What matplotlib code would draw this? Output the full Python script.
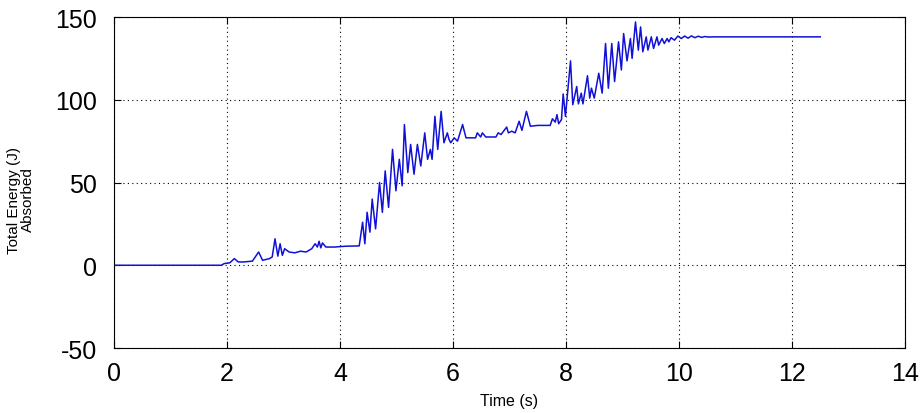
import matplotlib
matplotlib.use("Agg")
import matplotlib.pyplot as plt

# data (time in s, energy in J)
time = [0.0, 1.9, 1.95, 2.05, 2.13, 2.2, 2.3, 2.45, 2.56, 2.63, 2.75, 2.8, 2.85,
        2.9, 2.94, 2.98, 3.02, 3.1, 3.2, 3.3, 3.4, 3.5, 3.56, 3.6, 3.63, 3.66,
        3.69, 3.75, 3.9, 4.1, 4.34,
        4.4, 4.44, 4.48, 4.53, 4.57, 4.63, 4.7, 4.75, 4.8, 4.86, 4.93, 4.99,
        5.05, 5.1, 5.14, 5.2, 5.25, 5.31, 5.37, 5.43, 5.5, 5.55, 5.6, 5.63,
        5.68, 5.73, 5.79, 5.84, 5.9, 5.93, 5.96, 6.02, 6.08, 6.17, 6.23,
        6.32, 6.4, 6.43, 6.49, 6.52, 6.58, 6.76, 6.8, 6.85, 6.95, 6.98,
        7.04, 7.1, 7.17, 7.22, 7.3, 7.37, 7.5, 7.72, 7.76, 7.81, 7.84, 7.87,
        7.92, 7.95, 7.99, 8.08, 8.12, 8.19, 8.22, 8.27, 8.3, 8.38, 8.42, 8.45,
        8.5, 8.58, 8.64, 8.7, 8.75, 8.81, 8.86, 8.93, 8.98, 9.02, 9.08, 9.14,
        9.17, 9.23, 9.28, 9.32, 9.36, 9.42, 9.45, 9.51, 9.55, 9.61, 9.64, 9.7,
        9.74, 9.79, 9.82, 9.86, 9.92, 9.98, 10.04, 10.1, 10.16, 10.22, 10.28,
        10.34, 10.4, 10.46, 10.52, 10.6, 11.0, 11.5, 12.0, 12.5]
energy = [0.0, 0.0, 1.0, 1.5, 4.0, 2.0, 2.0, 2.5, 8.0, 3.0, 4.0, 5.0, 16.0,
          5.5, 13.0, 6.0, 10.0, 8.0, 7.5, 8.5, 8.0, 10.0, 13.0, 11.0, 14.5, 10.5,
          13.5, 11.0, 11.0, 11.5, 11.7,
          26.0, 13.0, 32.0, 20.0, 40.0, 22.0, 50.0, 32.0, 57.0, 35.0, 70.0, 45.0,
          64.0, 48.0, 85.0, 56.0, 73.0, 55.0, 73.0, 60.0, 80.0, 64.0, 70.0, 64.0,
          90.0, 70.0, 93.0, 74.0, 80.0, 76.0, 74.0, 77.0, 75.0, 85.0, 77.0,
          77.0, 77.0, 80.0, 77.5, 80.0, 77.5, 77.5, 80.0, 79.0, 83.5, 80.0,
          81.0, 80.0, 87.0, 81.5, 93.0, 84.0, 84.5, 84.5, 88.5, 86.5, 91.0, 85.5,
          88.0, 103.5, 90.0, 123.5, 97.0, 108.0, 97.5, 104.0, 97.5, 114.5, 101.0, 107.0,
          101.0, 116.0, 104.0, 134.0, 107.0, 134.0, 111.0, 135.0, 118.0, 140.0, 123.5, 137.0,
          125.0, 147.0, 130.0, 144.0, 129.0, 138.0, 130.0, 138.0, 131.0, 138.0, 133.0, 137.0,
          134.0, 137.0, 135.0, 137.5, 136.0, 138.5, 137.0, 138.5, 137.2, 138.6, 137.5,
          138.4, 137.7, 138.2, 137.9, 138.0, 138.0, 138.0, 138.0, 138.0]

plt.rcParams['font.family'] = ['Liberation Sans', 'DejaVu Sans']
plt.rcParams['axes.unicode_minus'] = False

fig = plt.figure(figsize=(9.23, 4.14), dpi=100)
ax = fig.add_axes([0.1235, 0.157, 0.857, 0.7995])

ax.plot(time, energy, color='#1010d8', linewidth=1.1)

ax.set_xlim(0, 14)
ax.set_ylim(-50, 150)
ax.set_xticks(range(0, 15, 2))
ax.set_yticks([-50, 0, 50, 100, 150])
ax.tick_params(direction='in', labelsize=18, length=5, top=True, right=True)
ax.tick_params(axis='y', pad=12)
ax.tick_params(axis='x', pad=9)
ax.grid(True, color='black', linestyle=(0, (1, 3)), linewidth=0.8)

ax.set_xlabel('Time (s)', fontsize=11.5)
ax.xaxis.set_label_coords(0.5, -0.135)
ax.set_ylabel('Total Energy (J)\nAbsorbed', fontsize=11, multialignment='center',
              linespacing=0.95)
ax.yaxis.set_label_coords(-0.10, 0.45)

for s in ax.spines.values():
    s.set_linewidth(0.8)

fig.savefig('out.png', dpi=100)
